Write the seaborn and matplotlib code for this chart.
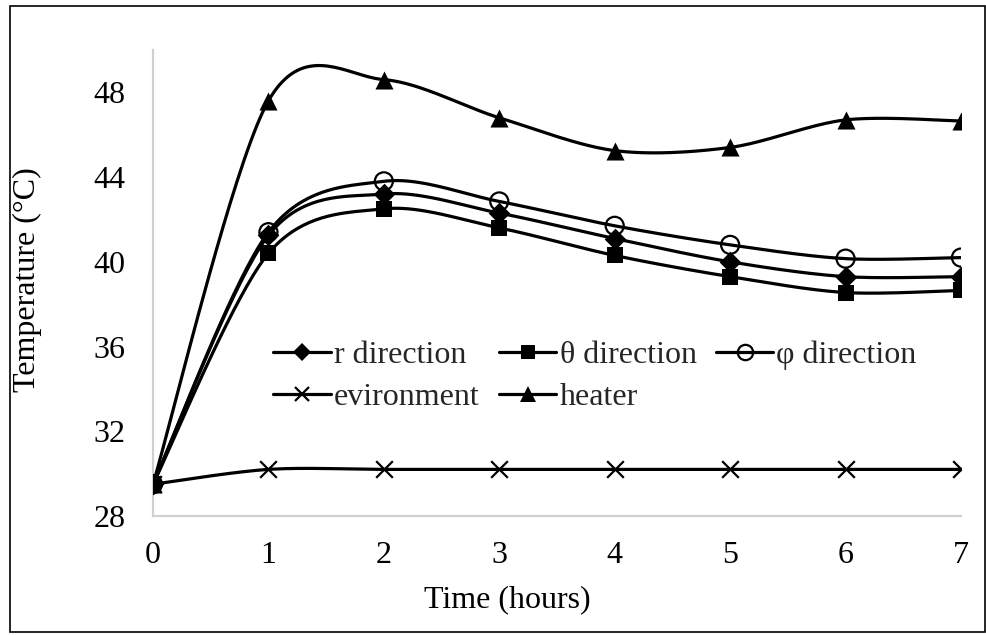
import numpy as np
import pandas as pd
import matplotlib
matplotlib.use("Agg")
import matplotlib.pyplot as plt
import seaborn as sns
from matplotlib.lines import Line2D
from matplotlib.patches import Rectangle

# ---- data ----
hours = [0, 1, 2, 3, 4, 5, 6, 7]
r_direction = [29.5, 41.25, 43.2, 42.3, 41.1, 40.0, 39.3, 39.3]
theta_direction = [29.5, 40.4, 42.5, 41.6, 40.3, 39.3, 38.55, 38.65]
phi_direction = [29.5, 41.4, 43.8, 42.85, 41.7, 40.8, 40.15, 40.2]
environment = [29.5, 30.2, 30.2, 30.2, 30.2, 30.2, 30.2, 30.2]
heater = [29.5, 47.6, 48.6, 46.8, 45.25, 45.4, 46.7, 46.65]
y_ticks = [28, 32, 36, 40, 44, 48]

series = [
    ("r direction", r_direction, dict(marker="D", ms=11, mfc="black", mew=0)),
    ("\u03b8 direction", theta_direction, dict(marker="s", ms=12, mfc="black", mew=0)),
    ("\u03c6 direction", phi_direction, dict(marker="o", ms=13, mfc="none", mew=1.6)),
    ("evironment", environment, dict(marker="x", ms=12, mfc="black", mew=1.6)),
    ("heater", heater, dict(marker="^", ms=13, mfc="black", mew=0)),
]


def smooth(xs, ys, n=40):
    """Excel-like smoothed line (Catmull-Rom / cubic Bezier through points)."""
    P = np.column_stack([xs, ys]).astype(float)
    ext = np.vstack([P[0], P, P[-1]])
    out = []
    t = np.linspace(0, 1, n)[:, None]
    for i in range(len(P) - 1):
        p0, p1, p2, p3 = ext[i], ext[i + 1], ext[i + 2], ext[i + 3]
        c1 = p1 + (p2 - p0) / 6.5
        c2 = p2 - (p3 - p1) / 6.5
        seg = ((1 - t) ** 3) * p1 + 3 * ((1 - t) ** 2) * t * c1 + 3 * (1 - t) * t ** 2 * c2 + t ** 3 * p2
        out.append(seg if i == 0 else seg[1:])
    out = np.vstack(out)
    return out[:, 0], out[:, 1]


sns.set_theme(style="white")
plt.rcParams["font.family"] = ["Liberation Serif", "DejaVu Serif"]

FS = 23
fig = plt.figure(figsize=(9.87, 6.35), dpi=100)
ax = fig.add_axes([153 / 987, 1 - 516 / 635, (961 - 153) / 987, (516 - 50) / 635])

LW = 2.3
handles = []
for name, vals, mk in series:
    sx, sy = smooth(hours, vals)
    df = pd.DataFrame({"x": sx, "y": sy})
    sns.lineplot(data=df, x="x", y="y", ax=ax, color="black", lw=LW, sort=False,
                 estimator=None, legend=False)
    pts = pd.DataFrame({"x": hours, "y": vals})
    if mk["marker"] == "o":
        sns.scatterplot(data=pts, x="x", y="y", ax=ax, marker="o", s=mk["ms"] ** 2,
                        facecolors="none", edgecolor="black", linewidth=mk["mew"],
                        legend=False, zorder=5)
    elif mk["marker"] == "x":
        sns.scatterplot(data=pts, x="x", y="y", ax=ax, marker="x", s=mk["ms"] ** 2,
                        color="black", linewidth=mk["mew"], legend=False, zorder=5)
    else:
        sns.scatterplot(data=pts, x="x", y="y", ax=ax, marker=mk["marker"], s=mk["ms"] ** 2,
                        color="black", linewidth=0, legend=False, zorder=5)
    handles.append(Line2D([], [], color="black", lw=LW, marker=mk["marker"],
                          markersize=mk["ms"] * 0.85, markerfacecolor=mk["mfc"],
                          markeredgecolor="black", markeredgewidth=mk["mew"], label=name))

ax.set_xlim(0, 7)
ax.set_ylim(28, 50)
ax.set_xticks(hours)
ax.set_xticklabels([str(h) for h in hours])
ax.set_yticks(y_ticks)
ax.set_yticklabels([str(v) for v in y_ticks])
ax.tick_params(axis="both", length=0, labelsize=FS, colors="black")
ax.tick_params(axis="x", pad=18)
ax.tick_params(axis="y", pad=20)

for s in ["top", "right"]:
    ax.spines[s].set_visible(False)
for s in ["left", "bottom"]:
    ax.spines[s].set_color("#d0d0d0")
    ax.spines[s].set_linewidth(1.5)
ax.grid(False)

ax.set_xlabel("Time (hours)", fontsize=FS, color="black")
ax.set_ylabel("Temperature (\u00b0C)", fontsize=FS, color="black")
ax.xaxis.set_label_coords((507 - 153) / 808, (516 - 600) / 466)
ax.yaxis.set_label_coords((27 - 153) / 808, (516 - 280) / 466)
ax.xaxis.label.set_va("center")
ax.yaxis.label.set_va("center")

order = [0, 3, 1, 4, 2]
leg = ax.legend([handles[i] for i in order], [handles[i].get_label() for i in order],
                ncol=3, loc="center", bbox_to_anchor=((595 - 153) / 808, (516 - 376) / 466),
                frameon=False, fontsize=FS, handlelength=1.8, handletextpad=0.1,
                columnspacing=0.6, labelspacing=0.4, borderpad=0.2)

fig.patches.append(Rectangle((10 / 987, 1 - 632 / 635), 975 / 987, 626 / 635,
                             transform=fig.transFigure, fill=False, edgecolor="black",
                             linewidth=1.2))

fig.savefig("out.png", dpi=100, facecolor="white")
